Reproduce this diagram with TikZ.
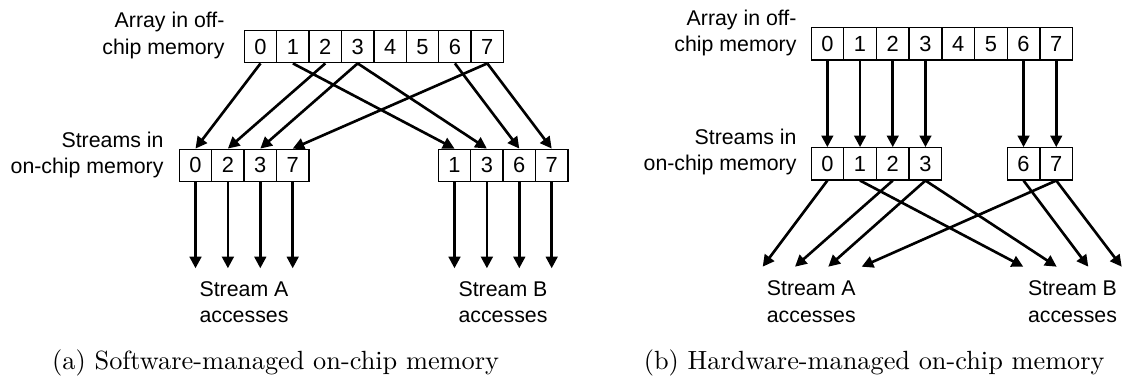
\documentclass[tikz,border=0pt]{standalone}
\usepackage{fontspec}
\newfontfamily\labelfont{Liberation Sans}
\usetikzlibrary{arrows.meta}
\tikzset{
  cell/.style={draw=black,line width=0.45pt,minimum width=12.35pt,minimum height=12.25pt,inner sep=0pt,font=\labelfont\fontsize{8.3}{10}\selectfont},
  memlabel/.style={align=right,anchor=east,inner sep=0pt,font=\labelfont\fontsize{8.1}{10.1}\selectfont},
  acclabel/.style={align=center,inner sep=0pt,font=\labelfont\fontsize{8.1}{10.1}\selectfont},
  feed/.style={-{Triangle[length=4.4pt,width=4.4pt]},line width=1pt},
}
\begin{document}
\begin{tikzpicture}[x=0.38pt,y=-0.38pt]
\useasboundingbox (0,0) rectangle (1125,381);
% (a) software-managed
\node[memlabel] (loff) at (225,35.5) {Array in off-\\chip memory};
\node[memlabel] (lon) at (164,155) {Streams in\\on-chip memory};
\node[cell] (lo0) at (260.5,46.7) {0};
\node[cell] (lo1) at (292.9,46.7) {1};
\node[cell] (lo2) at (325.3,46.7) {2};
\node[cell] (lo3) at (357.7,46.7) {3};
\node[cell] (lo4) at (390.1,46.7) {4};
\node[cell] (lo5) at (422.5,46.7) {5};
\node[cell] (lo6) at (454.9,46.7) {6};
\node[cell] (lo7) at (487.3,46.7) {7};
\node[cell] (lsa0) at (195.5,165.3) {0};
\node[cell] (lsa1) at (227.9,165.3) {2};
\node[cell] (lsa2) at (260.3,165.3) {3};
\node[cell] (lsa3) at (292.7,165.3) {7};
\node[cell] (lsb0) at (454.5,165.3) {1};
\node[cell] (lsb1) at (486.9,165.3) {3};
\node[cell] (lsb2) at (519.3,165.3) {6};
\node[cell] (lsb3) at (551.7,165.3) {7};
\draw[feed] (lo0.south) -- (lsa0.north);
\draw[feed] (lo1.south) -- (lsb0.north);
\draw[feed] (lo2.south) -- (lsa1.north);
\draw[feed] (lo3.south) -- (lsa2.north);
\draw[feed] (lo3.south) -- (lsb1.north);
\draw[feed] (lo6.south) -- (lsb2.north);
\draw[feed] (lo7.south) -- (lsa3.north);
\draw[feed] (lo7.south) -- (lsb3.north);
\coordinate (la0) at (195.5,268.3);
\coordinate (la1) at (227.9,268.3);
\coordinate (la2) at (260.3,268.3);
\coordinate (la3) at (292.7,268.3);
\coordinate (lb0) at (454.5,268.3);
\coordinate (lb1) at (486.9,268.3);
\coordinate (lb2) at (519.3,268.3);
\coordinate (lb3) at (551.7,268.3);
\draw[feed] (lsa0.south) -- (la0);
\draw[feed] (lsa1.south) -- (la1);
\draw[feed] (lsa2.south) -- (la2);
\draw[feed] (lsa3.south) -- (la3);
\draw[feed] (lsb0.south) -- (lb0);
\draw[feed] (lsb1.south) -- (lb1);
\draw[feed] (lsb2.south) -- (lb2);
\draw[feed] (lsb3.south) -- (lb3);
\node[acclabel] (lacc) at (244,302) {Stream A\\accesses};
\node[acclabel] (lbcc) at (503,302) {Stream B\\accesses};
\node[anchor=base west,inner sep=0pt] (capa) at (51.7,370) {(a) Software-managed on-chip memory};
% (b) hardware-managed
\node[memlabel] (roff) at (797,33) {Array in off-\\chip memory};
\node[memlabel] (ron) at (797,152) {Streams in\\on-chip memory};
\node[cell] (ro0) at (827.35,43.85) {0};
\node[cell] (ro1) at (860.05,43.85) {1};
\node[cell] (ro2) at (892.75,43.85) {2};
\node[cell] (ro3) at (925.45,43.85) {3};
\node[cell] (ro4) at (958.15,43.85) {4};
\node[cell] (ro5) at (990.85,43.85) {5};
\node[cell] (ro6) at (1023.55,43.85) {6};
\node[cell] (ro7) at (1056.25,43.85) {7};
\node[cell] (rs0) at (827.35,163.85) {0};
\node[cell] (rs1) at (860.05,163.85) {1};
\node[cell] (rs2) at (892.75,163.85) {2};
\node[cell] (rs3) at (925.45,163.85) {3};
\node[cell] (rs6) at (1023.55,163.85) {6};
\node[cell] (rs7) at (1056.25,163.85) {7};
\draw[feed] (ro0.south) -- (rs0.north);
\draw[feed] (ro1.south) -- (rs1.north);
\draw[feed] (ro2.south) -- (rs2.north);
\draw[feed] (ro3.south) -- (rs3.north);
\draw[feed] (ro6.south) -- (rs6.north);
\draw[feed] (ro7.south) -- (rs7.north);
\coordinate (ra0) at (762.7,266.7);
\coordinate (ra1) at (795,266.7);
\coordinate (ra2) at (828.3,266.7);
\coordinate (ra3) at (861.7,266.7);
\coordinate (rb0) at (1023.3,266.7);
\coordinate (rb1) at (1056.7,266.7);
\coordinate (rb2) at (1088.3,266.7);
\coordinate (rb3) at (1121.7,266.7);
\draw[feed] (rs0.south) -- (ra0);
\draw[feed] (rs1.south) -- (rb0);
\draw[feed] (rs2.south) -- (ra1);
\draw[feed] (rs3.south) -- (ra2);
\draw[feed] (rs3.south) -- (rb1);
\draw[feed] (rs6.south) -- (rb2);
\draw[feed] (rs7.south) -- (ra3);
\draw[feed] (rs7.south) -- (rb3);
\node[acclabel] (racc) at (811.3,301.5) {Stream A\\accesses};
\node[acclabel] (rbcc) at (1072.5,301.5) {Stream B\\accesses};
\node[anchor=base west,inner sep=0pt] (capb) at (643.3,370) {(b) Hardware-managed on-chip memory};
\end{tikzpicture}
\end{document}
